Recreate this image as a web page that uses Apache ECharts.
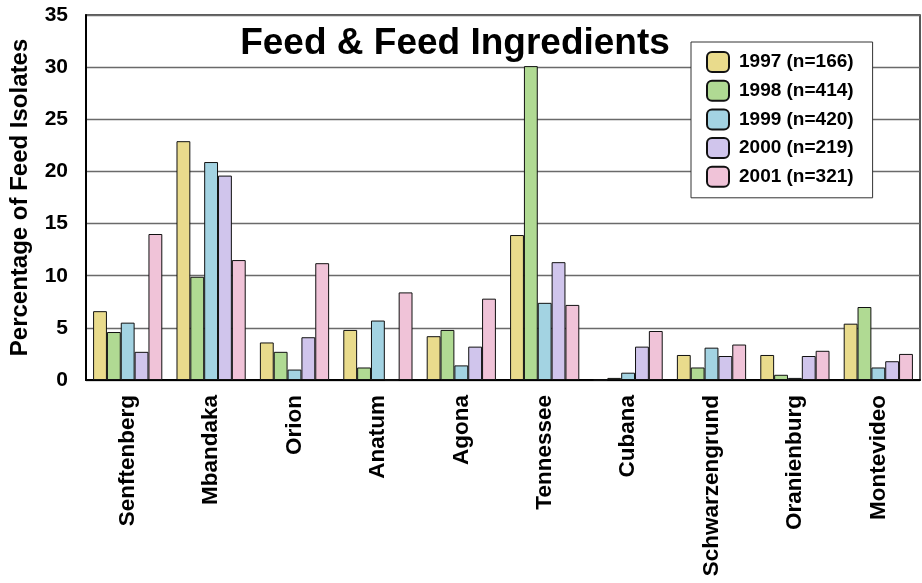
<!DOCTYPE html>
<html>
<head>
<meta charset="utf-8">
<script src="https://cdn.jsdelivr.net/npm/echarts@6/dist/echarts.min.js"></script>
<style>
html,body{margin:0;padding:0;background:#fff;}
#chart{width:922px;height:583px;}
</style>
</head>
<body>
<div id="chart"></div>
<script>
const categories = ['Senftenberg','Mbandaka','Orion','Anatum','Agona','Tennessee','Cubana','Schwarzengrund','Oranienburg','Montevideo'];
const seriesNames = ['1997 (n=166)','1998 (n=414)','1999 (n=420)','2000 (n=219)','2001 (n=321)'];
const v1997 = [6.6, 22.9, 3.6, 4.8, 4.2, 13.9, 0, 2.4, 2.4, 5.4];
const v1998 = [4.6, 9.9, 2.7, 1.2, 4.8, 30.1, 0.2, 1.2, 0.5, 7.0];
const v1999 = [5.5, 20.9, 1.0, 5.7, 1.4, 7.4, 0.7, 3.1, 0.2, 1.2];
const v2000 = [2.7, 19.6, 4.1, 0, 3.2, 11.3, 3.2, 2.3, 2.3, 1.8];
const v2001 = [14.0, 11.5, 11.2, 8.4, 7.8, 7.2, 4.7, 3.4, 2.8, 2.5];
const colors = ['#E9DB8C','#B0DA93','#A3D3E2','#D0C5EC','#F0C3D8'];
const yTicks = {min: 0, max: 35, interval: 5};

const allValues = [v1997, v1998, v1999, v2000, v2001];
const FONT = '"Liberation Sans", Arial, sans-serif';

const chart = echarts.init(document.getElementById('chart'), null, {renderer: 'canvas'});
chart.setOption({
  animation: false,
  backgroundColor: '#fff',
  title: {
    text: 'Feed & Feed Ingredients',
    left: 450, top: 20, textAlign: 'center',
    textStyle: {fontFamily: FONT, fontWeight: 'bold', fontSize: 37, color: '#000'}
  },
  legend: {
    orient: 'vertical',
    left: 691, top: 42,
    padding: [9, 19, 10, 15],
    itemWidth: 22, itemHeight: 20, itemGap: 6.7,
    backgroundColor: '#fff',
    borderColor: '#333', borderWidth: 1,
    textStyle: {fontFamily: FONT, fontWeight: 'bold', fontSize: 19, color: '#000', padding: [0, 0, 0, 5]},
    data: seriesNames
  },
  grid: {
    left: 86, right: 2, top: 15, bottom: 203,
    show: true, borderColor: '#222', borderWidth: 1.5, backgroundColor: 'transparent'
  },
  xAxis: {
    type: 'category',
    data: categories,
    axisLine: {lineStyle: {color: '#000', width: 2}},
    axisTick: {show: false},
    axisLabel: {rotate: 90, margin: 15, fontFamily: FONT, fontWeight: 'bold', fontSize: 22.5, color: '#000', interval: 0}
  },
  yAxis: {
    type: 'value',
    min: yTicks.min, max: yTicks.max, interval: yTicks.interval,
    name: 'Percentage of Feed Isolates',
    nameLocation: 'middle', nameGap: 54,
    nameTextStyle: {fontFamily: FONT, fontWeight: 'bold', fontSize: 24, color: '#000'},
    axisLine: {show: true, lineStyle: {color: '#000', width: 2}},
    axisTick: {show: false},
    axisLabel: {margin: 18, fontFamily: FONT, fontWeight: 'bold', fontSize: 21, color: '#000'},
    splitLine: {show: true, lineStyle: {color: '#6a6a6a', width: 1.4}}
  },
  series: allValues.map((vals, i) => ({
    name: seriesNames[i],
    type: 'bar',
    data: vals,
    barGap: '0%',
    barCategoryGap: '17%',
    itemStyle: {color: colors[i], borderColor: '#111', borderWidth: 1}
  }))
});
</script>
</body>
</html>
